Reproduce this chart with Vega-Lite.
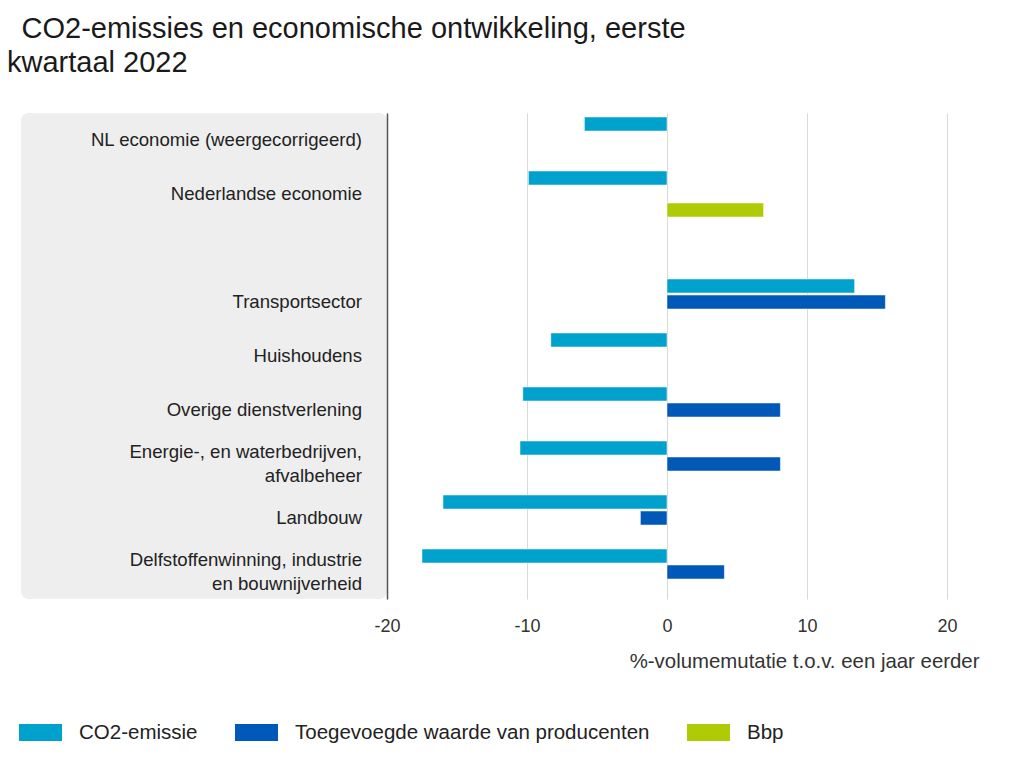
{
  "$schema": "https://vega.github.io/schema/vega-lite/v6.json",
  "background": "white",
  "padding": {"left": 7, "top": 15, "right": 10, "bottom": 10},
  "config": {"font": "Liberation Sans"},
  "title": {
    "text": ["\u200b\u2002CO2-emissies en economische ontwikkeling, eerste", "kwartaal 2022"],
    "anchor": "start",
    "frame": "group",
    "fontSize": 29,
    "fontWeight": "normal",
    "color": "#1a1a1a",
    "lineHeight": 34,
    "dx": -14,
    "offset": 35
  },
  "datasets": {
    "bars": [
      {"category": "NL economie (weergecorrigeerd)", "series": "CO2-emissie", "value": -5.9},
      {"category": "Nederlandse economie", "series": "CO2-emissie", "value": -9.9},
      {"category": "Nederlandse economie", "series": "Bbp", "value": 6.9},
      {"category": "Transportsector", "series": "CO2-emissie", "value": 13.4},
      {"category": "Transportsector", "series": "Toegevoegde waarde van producenten", "value": 15.6},
      {"category": "Huishoudens", "series": "CO2-emissie", "value": -8.3},
      {"category": "Overige dienstverlening", "series": "CO2-emissie", "value": -10.3},
      {"category": "Overige dienstverlening", "series": "Toegevoegde waarde van producenten", "value": 8.1},
      {"category": "Energie-, en waterbedrijven,\nafvalbeheer", "series": "CO2-emissie", "value": -10.5},
      {"category": "Energie-, en waterbedrijven,\nafvalbeheer", "series": "Toegevoegde waarde van producenten", "value": 8.1},
      {"category": "Landbouw", "series": "CO2-emissie", "value": -16.0},
      {"category": "Landbouw", "series": "Toegevoegde waarde van producenten", "value": -1.9},
      {"category": "Delfstoffenwinning, industrie\nen bouwnijverheid", "series": "CO2-emissie", "value": -17.5},
      {"category": "Delfstoffenwinning, industrie\nen bouwnijverheid", "series": "Toegevoegde waarde van producenten", "value": 4.1}
    ],
    "cats": [
      {"category": "NL economie (weergecorrigeerd)"},
      {"category": "Nederlandse economie"},
      {"category": "Transportsector"},
      {"category": "Huishoudens"},
      {"category": "Overige dienstverlening"},
      {"category": "Energie-, en waterbedrijven,\nafvalbeheer"},
      {"category": "Landbouw"},
      {"category": "Delfstoffenwinning, industrie\nen bouwnijverheid"}
    ]
  },
  "spacing": 0,
  "bounds": "flush",
  "resolve": {"scale": {"x": "independent", "y": "independent"}},
  "hconcat": [
    {
      "width": 366,
      "height": 486,
      "view": {"fill": "#eeeeee", "stroke": null, "cornerRadius": 8},
      "data": {"name": "cats"},
      "encoding": {
        "y": {
          "field": "category", "type": "nominal", "sort": null,
          "scale": {"domain": ["NL economie (weergecorrigeerd)", "Nederlandse economie", " ", "Transportsector", "Huishoudens", "Overige dienstverlening", "Energie-, en waterbedrijven,\nafvalbeheer", "Landbouw", "Delfstoffenwinning, industrie\nen bouwnijverheid"], "paddingInner": 0, "paddingOuter": 0},
          "axis": null
        },
        "x": {"datum": 1, "type": "quantitative", "scale": {"domain": [0, 1]}, "axis": null},
        "text": {"field": "category"}
      },
      "layer": [
        {
          "transform": [{"filter": "indexof(datum.category, '\\n') < 0"}],
          "mark": {"type": "text", "align": "right", "baseline": "middle", "dx": -25, "fontSize": 18.6, "color": "#222222", "lineBreak": "\n", "lineHeight": 24}
        },
        {
          "transform": [{"filter": "indexof(datum.category, '\\n') >= 0"}],
          "mark": {"type": "text", "align": "right", "baseline": "middle", "dx": -25, "dy": -12, "fontSize": 18.6, "color": "#222222", "lineBreak": "\n", "lineHeight": 24}
        }
      ]
    },
    {
      "width": 592,
      "height": 486,
      "view": {"stroke": null},
      "data": {"name": "bars"},
      "mark": {"type": "bar", "stroke": "white", "strokeWidth": 1, "strokeOpacity": 0.5},
      "encoding": {
        "y": {
          "field": "category", "type": "nominal", "sort": null,
          "scale": {"domain": ["NL economie (weergecorrigeerd)", "Nederlandse economie", " ", "Transportsector", "Huishoudens", "Overige dienstverlening", "Energie-, en waterbedrijven,\nafvalbeheer", "Landbouw", "Delfstoffenwinning, industrie\nen bouwnijverheid"], "paddingInner": 0, "paddingOuter": 0},
          "axis": {"labels": false, "ticks": false, "domain": true, "domainColor": "#555555", "domainWidth": 1.5, "title": null, "grid": false}
        },
        "yOffset": {
          "field": "series", "type": "nominal",
          "scale": {"domain": ["CO2-emissie", "Toegevoegde waarde van producenten", "Bbp"], "paddingInner": 0.125, "paddingOuter": 0.25}
        },
        "x": {
          "field": "value", "type": "quantitative",
          "scale": {"domain": [-20, 22.286], "nice": false},
          "axis": {"values": [-20, -10, 0, 10, 20], "labelExpr": "'' + datum.value", "labelFlush": false, "grid": true, "gridColor": "#d9d9d9", "ticks": false, "domain": false, "labelFontSize": 18, "labelColor": "#333333", "labelPadding": 18, "title": "%-volumemutatie t.o.v. een jaar eerder", "titleAnchor": "end", "titleFontSize": 20.4, "titleFontWeight": "normal", "titleColor": "#333333", "titlePadding": 16}
        },
        "color": {
          "field": "series", "type": "nominal",
          "scale": {"domain": ["CO2-emissie", "Toegevoegde waarde van producenten", "Bbp"], "range": ["#00a1cd", "#0058b8", "#afcb05"]},
          "legend": {"orient": "none", "legendX": -2, "legendY": 598, "direction": "horizontal", "title": null, "symbolType": "M-1,-0.4H1V0.4H-1Z", "symbolSize": 1849, "symbolStrokeWidth": 0, "symbolOpacity": 1, "labelFontSize": 20.5, "labelColor": "#222222", "labelOffset": 17, "labelLimit": 0, "columnPadding": 37}
        }
      }
    }
  ]
}
